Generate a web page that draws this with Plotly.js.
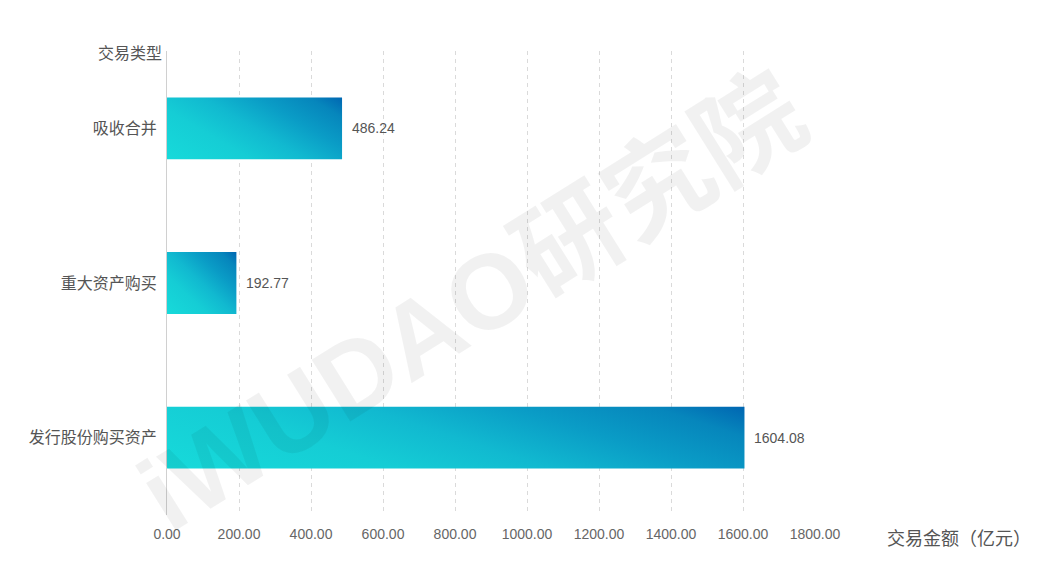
<!DOCTYPE html>
<html>
<head>
<meta charset="utf-8">
<script src="https://cdn.plot.ly/plotly-3.0.1.min.js"></script>
<style>html,body{margin:0;padding:0;background:#fff;}#chart{width:1053px;height:570px;}</style>
</head>
<body>
<div id="chart"></div>
<script>
const categories = ['吸收合并', '重大资产购买', '发行股份购买资产'];
const amounts = [486.24, 192.77, 1604.08];
const xTickValues = [0, 200, 400, 600, 800, 1000, 1200, 1400, 1600, 1800];
const yAxisTitle = '交易类型';
const xAxisTitle = '交易金额（亿元）';
const watermark = 'iWUDAO研究院';

const cjk = '"Liberation Sans", "Noto Sans CJK SC", sans-serif';

const trace = {
  type: 'bar',
  orientation: 'h',
  x: amounts,
  y: categories,
  width: 0.4,
  marker: { color: '#10b8cf', line: { width: 0 } },
  hoverinfo: 'none'
};

const valueLabels = amounts.map((v, i) => ({
  x: v, y: categories[i], xref: 'x', yref: 'y',
  text: v.toFixed(2), showarrow: false, xanchor: 'left', xshift: 8,
  font: { family: cjk, size: 14, color: '#555' }
}));

const layout = {
  width: 1053, height: 570,
  margin: { l: 167, r: 238, t: 51, b: 55 },
  paper_bgcolor: '#fff', plot_bgcolor: 'rgba(0,0,0,0)',
  showlegend: false,
  font: { family: cjk, size: 14, color: '#666' },
  xaxis: {
    range: [0, 1800], tickvals: xTickValues, tickformat: '.2f',
    showgrid: true, gridcolor: '#dadada', griddash: '4px,4px', gridwidth: 1,
    zeroline: false, showline: false, ticks: 'outside', ticklen: 6, tickcolor: 'rgba(0,0,0,0)',
    tickfont: { size: 14, color: '#666' }, fixedrange: true
  },
  yaxis: {
    type: 'category', autorange: 'reversed',
    showgrid: false, zeroline: false, showline: true, linecolor: '#d0d0d0', linewidth: 1,
    ticks: 'outside', ticklen: 6, tickcolor: 'rgba(0,0,0,0)',
    tickfont: { size: 16, color: '#555' }, fixedrange: true
  },
  annotations: valueLabels.concat([
    { text: yAxisTitle, xref: 'paper', yref: 'paper', x: 0, y: 1, xanchor: 'right', yanchor: 'middle',
      xshift: -3, yshift: -2, showarrow: false, font: { family: cjk, size: 16, color: '#555' } },
    { text: xAxisTitle, xref: 'paper', yref: 'paper', x: 1.108, y: 0, xanchor: 'left', yanchor: 'middle',
      yshift: -24, showarrow: false, font: { family: cjk, size: 18, color: '#555' } },
    { text: watermark, xref: 'paper', yref: 'paper', x: 0.47, y: 0.46, xanchor: 'center', yanchor: 'middle',
      textangle: -32, showarrow: false,
      font: { family: cjk, size: 106, color: 'rgba(0,0,0,0.055)', weight: 'bold' } }
  ])
};

Plotly.newPlot('chart', [trace], layout, { displayModeBar: false, staticPlot: true }).then(gd => {
  const svg = gd.querySelector('svg.main-svg');
  const ns = 'http://www.w3.org/2000/svg';
  let defs = svg.querySelector('defs');
  if (!defs) { defs = document.createElementNS(ns, 'defs'); svg.insertBefore(defs, svg.firstChild); }
  const stops = [['0', '#17dada'], ['0.3', '#15cdd5'], ['0.5', '#11b9d0'], ['0.7', '#0a9cc6'], ['0.88', '#0686bc'], ['1', '#0066b2']];
  gd.querySelectorAll('.bars .point path').forEach((p, i) => {
    const b = p.getBBox();
    const w = b.width, h = b.height;
    const a = Math.sqrt(w) / (Math.sqrt(w) + Math.sqrt(h));
    const gx = a / w, gy = -(1 - a) / h;
    const g2 = gx * gx + gy * gy;
    const x1 = b.x, y1 = b.y + h;
    const grad = document.createElementNS(ns, 'linearGradient');
    grad.setAttribute('id', 'barGrad' + i);
    grad.setAttribute('gradientUnits', 'userSpaceOnUse');
    grad.setAttribute('x1', x1); grad.setAttribute('y1', y1);
    grad.setAttribute('x2', x1 + gx / g2); grad.setAttribute('y2', y1 + gy / g2);
    stops.forEach(([o, c]) => {
      const s = document.createElementNS(ns, 'stop');
      s.setAttribute('offset', o); s.setAttribute('stop-color', c);
      grad.appendChild(s);
    });
    defs.appendChild(grad);
    p.style.fill = 'url(#barGrad' + i + ')';
  });
});
</script>
</body>
</html>
